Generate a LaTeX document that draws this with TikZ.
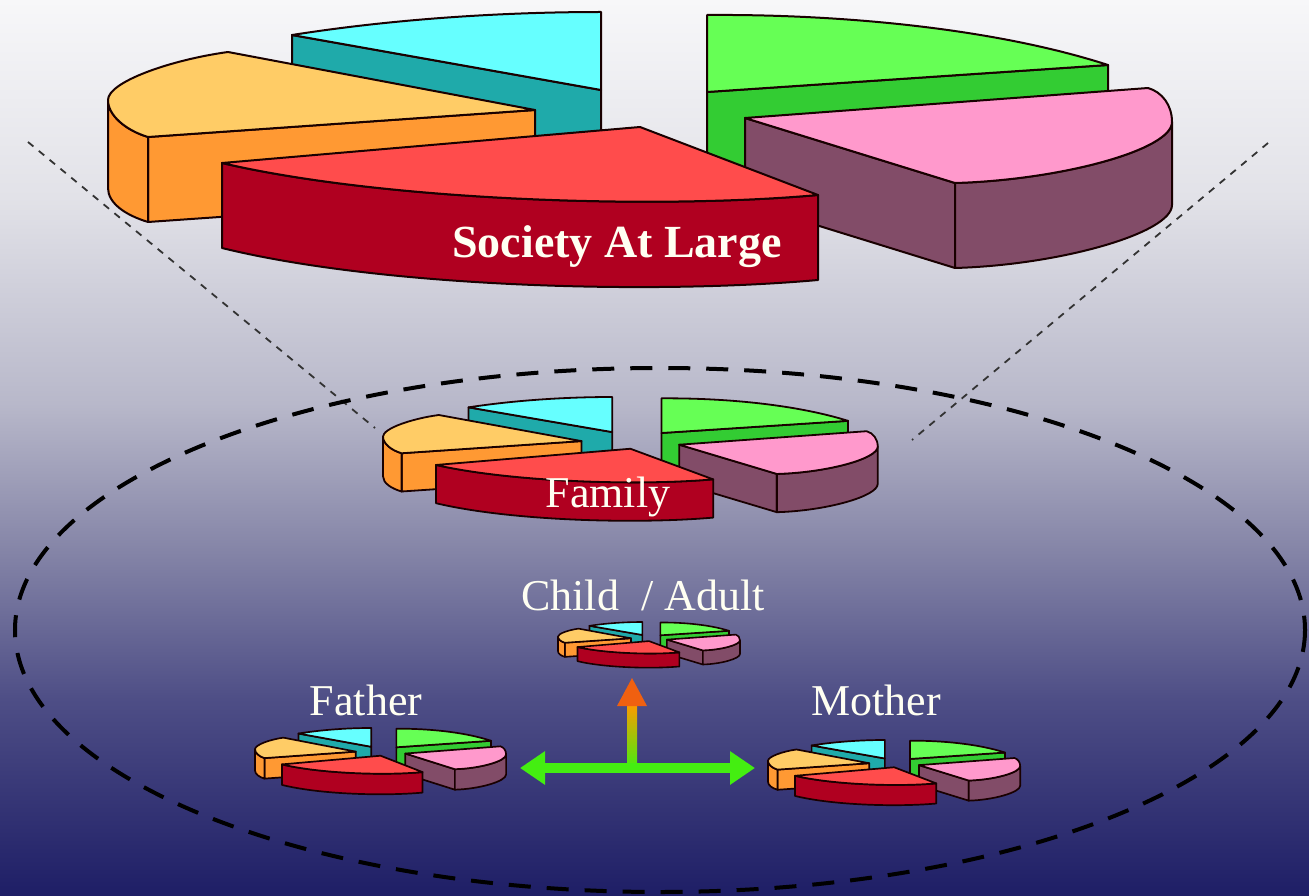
\documentclass[tikz,border=0pt]{standalone}
\usepackage{fontspec}
\setmainfont{Liberation Serif}
\usetikzlibrary{arrows.meta,calc}
\definecolor{bga}{HTML}{1E1E66}
\definecolor{bgb}{HTML}{4E4E86}
\definecolor{bgc}{HTML}{8686A8}
\definecolor{bgd}{HTML}{B8B8CA}
\definecolor{bge}{HTML}{E2E2E8}
\definecolor{bgf}{HTML}{F7F7F9}
\definecolor{cyantop}{HTML}{66FFFF}
\definecolor{cyanside}{HTML}{1FAAAA}
\definecolor{greentop}{HTML}{66FF55}
\definecolor{greenside}{HTML}{33CC33}
\definecolor{orangetop}{HTML}{FFCC66}
\definecolor{orangeside}{HTML}{FF9933}
\definecolor{redtop}{HTML}{FF4C4C}
\definecolor{redside}{HTML}{B00020}
\definecolor{pinktop}{HTML}{FF99CC}
\definecolor{pinkside}{HTML}{824C68}
\definecolor{arrgreen}{HTML}{44EE11}
\definecolor{arrorange}{HTML}{F06010}
\definecolor{labelwhite}{HTML}{FFFFF2}
\pgfdeclareverticalshading{bgshade}{100bp}{color(0bp)=(bga); color(25bp)=(bga); color(36bp)=(bgb); color(44.5bp)=(bgc); color(52.5bp)=(bgd); color(64bp)=(bge); color(75bp)=(bgf); color(100bp)=(bgf)}
\tikzset{
  pieline/.style={draw=black!90!red, line width=2pt, line join=round},
  guide/.style={draw=black!80, line width=1.8pt, dash pattern=on 7pt off 7pt},
  ring/.style={draw=black, line width=4pt, dash pattern=on 22pt off 16pt},
  biglabel/.style={text=labelwhite, font=\fontsize{46}{50}\selectfont\bfseries, inner sep=0pt},
  label/.style={text=labelwhite, font=\fontsize{44}{48}\selectfont, inner sep=0pt},
}
\newcommand{\piechart}{%
  % cyan slice
  \filldraw[pieline, fill=cyanside] (292,35) -- (601,90) -- (601,175) -- (292,120) -- cycle;
  \filldraw[pieline, fill=cyantop] (292,35) .. controls (400,18) and (510,12) .. (601,12) -- (601,90) -- cycle;
  % green slice
  \filldraw[pieline, fill=greenside] (707,92) -- (1108,65) -- (1108,150) -- (707,177) -- cycle;
  \filldraw[pieline, fill=greentop] (707,15) .. controls (850,14) and (1000,30) .. (1108,65) -- (707,92) -- cycle;
  % orange slice
  \filldraw[pieline, fill=orangeside] (148,137) -- (535,110) -- (535,195) -- (148,222) -- cycle;
  \filldraw[pieline, fill=orangeside] (108,100) .. controls (108,115) and (125,130) .. (148,137) -- (148,222) .. controls (125,215) and (108,203) .. (108,188) -- cycle;
  \filldraw[pieline, fill=orangetop] (535,110) -- (228,52) .. controls (170,60) and (108,82) .. (108,100) .. controls (108,115) and (125,130) .. (148,137) -- cycle;
  % pink slice
  \filldraw[pieline, fill=pinkside] (745,118) -- (955,183) -- (955,268) -- (745,203) -- cycle;
  \filldraw[pieline, fill=pinkside] (1172,122) .. controls (1172,150) and (1060,180) .. (955,183) -- (955,268) .. controls (1060,265) and (1172,233) .. (1172,205) -- cycle;
  \filldraw[pieline, fill=pinktop] (745,118) -- (1148,88) .. controls (1162,92) and (1172,105) .. (1172,122) .. controls (1172,150) and (1060,180) .. (955,183) -- cycle;
  % red slice
  \filldraw[pieline, fill=redside] (222,163) .. controls (380,200) and (650,210) .. (818,195) -- (818,280) .. controls (650,295) and (380,287) .. (222,248) -- cycle;
  \filldraw[pieline, fill=redtop] (640,127) -- (222,163) .. controls (380,200) and (650,210) .. (818,195) -- cycle;
}
\begin{document}
\begin{tikzpicture}[x=1pt, y=-1pt]
  \useasboundingbox (0,0) rectangle (1309,896);
  \shade[shading=bgshade] (0,0) rectangle (1309,896);

  % guide lines and ring
  \coordinate (gl1) at (28,142);
  \coordinate (gl2) at (375,428);
  \coordinate (gr1) at (1268,143);
  \coordinate (gr2) at (912,440);
  \draw[guide] (gl1) -- (gl2);
  \draw[guide] (gr1) -- (gr2);
  \draw[ring] (660,630) ellipse [x radius=645, y radius=262];

  % big pie
  \piechart
  \node[biglabel] (society) at (617,247) {Society At Large};

  % family pie
  \begin{scope}[shift={(383,397)}, xscale=0.465, yscale=0.45, shift={(-108,-12)}, pieline/.append style={line width=1.8pt}]
    \piechart
  \end{scope}
  \node[label] (family) at (608,497) {Family};

  % child pie
  \begin{scope}[shift={(558,622)}, xscale=0.171, yscale=0.166, shift={(-108,-12)}, pieline/.append style={line width=1.6pt}]
    \piechart
  \end{scope}
  \node[label] (child) at (643,595) {Child \ / Adult};

  % father pie
  \begin{scope}[shift={(255,728)}, xscale=0.236, yscale=0.241, shift={(-108,-12)}, pieline/.append style={line width=1.7pt}]
    \piechart
  \end{scope}
  \node[label] (father) at (366,700) {Father};

  % mother pie
  \begin{scope}[shift={(768,740)}, xscale=0.237, yscale=0.237, shift={(-108,-12)}, pieline/.append style={line width=1.7pt}]
    \piechart
  \end{scope}
  \node[label] (mother) at (876,700) {Mother};

  % arrows
  \coordinate (hl) at (520,768);
  \coordinate (hr) at (755,768);
  \coordinate (hm) at (632,768);
  \coordinate (vt) at (632,678);
  \shade[bottom color=arrgreen, top color=orange!80!yellow] ($(hm)+(-5,0)$) rectangle ($(vt)+(5,26)$);
  \fill[arrorange] ($(vt)+(-15,28)$) -- (vt) -- ($(vt)+(15,28)$) -- cycle;
  \draw[arrgreen, line width=10pt, {Triangle[width=32pt,length=25pt]}-{Triangle[width=32pt,length=25pt]}] (hl) -- (hr);
\end{tikzpicture}
\end{document}
